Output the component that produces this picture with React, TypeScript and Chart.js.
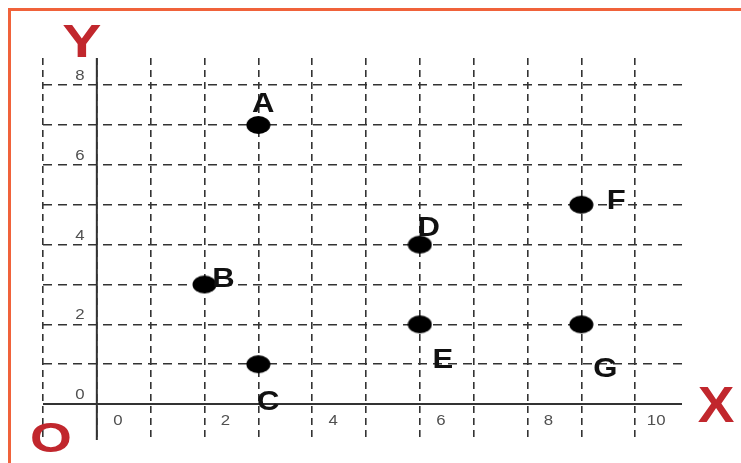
import React, { useEffect, useRef } from "react";
import { Chart, registerables } from "chart.js";

Chart.register(...registerables);

// ---- data ----
const POINT_NAMES = ["A", "B", "C", "D", "E", "F", "G"];
const POINT_X = [3, 2, 3, 6, 6, 9, 9];
const POINT_Y = [7, 3, 1, 4, 2, 5, 2];
const X_TICK_LABELS = [0, 2, 4, 6, 8, 10];
const Y_TICK_LABELS = [0, 2, 4, 6, 8];
const X_GRID = [-1, 0, 1, 2, 3, 4, 5, 6, 7, 8, 9, 10];
const Y_GRID = [0, 1, 2, 3, 4, 5, 6, 7, 8];
const X_MIN = -1;
const X_MAX = 10.87;
const Y_MIN = -0.9;
const Y_MAX = 8.68;

// ---- style ----
const LABEL_OFFSETS: Record<string, [number, number]> = {
  A: [5, -23],
  B: [19, -7],
  C: [10, 36],
  D: [9, -18],
  E: [23, 34],
  F: [35, -5],
  G: [24, 43],
};
const RED = "#c1272d";
const LINE = "#333333";
const FONT = '"Liberation Sans", Arial, sans-serif';

function makeDot(): HTMLCanvasElement {
  const c = document.createElement("canvas");
  c.width = 25;
  c.height = 20;
  const g = c.getContext("2d")!;
  g.fillStyle = "#000";
  g.beginPath();
  g.ellipse(12.5, 10, 12, 9, 0, 0, Math.PI * 2);
  g.fill();
  return c;
}

function drawText(
  ctx: CanvasRenderingContext2D,
  text: string,
  cx: number,
  cy: number,
  size: number,
  weight: string,
  color: string,
  sx: number
) {
  ctx.save();
  ctx.translate(cx, cy + size * 0.358);
  ctx.scale(sx, 1);
  ctx.font = `${weight} ${size}px ${FONT}`;
  ctx.fillStyle = color;
  ctx.textAlign = "center";
  ctx.textBaseline = "alphabetic";
  ctx.fillText(text, 0, 0);
  ctx.restore();
}

const textPlugin = {
  id: "coordTexts",
  afterDatasetsDraw(chart: any) {
    const ctx = chart.ctx as CanvasRenderingContext2D;
    const xs = chart.scales.x;
    const ys = chart.scales.y;
    const area = chart.chartArea;
    const x0 = xs.getPixelForValue(0);
    const y0 = ys.getPixelForValue(0);
    Y_TICK_LABELS.forEach((v) => {
      drawText(ctx, String(v), x0 - 17, ys.getPixelForValue(v) - 10, 14, "normal", "#505050", 1.2);
    });
    X_TICK_LABELS.forEach((v) => {
      drawText(ctx, String(v), xs.getPixelForValue(v) + 21, y0 + 16, 14, "normal", "#505050", 1.2);
    });
    POINT_NAMES.forEach((n, i) => {
      const [dx, dy] = LABEL_OFFSETS[n];
      drawText(
        ctx,
        n,
        xs.getPixelForValue(POINT_X[i]) + dx,
        ys.getPixelForValue(POINT_Y[i]) + dy,
        27,
        "bold",
        "#111",
        1.15
      );
    });
    drawText(ctx, "Y", x0 - 15, area.top - 18, 47, "bold", RED, 1.25);
    drawText(ctx, "X", area.right + 34, y0, 50, "bold", RED, 1.1);
    drawText(ctx, "O", area.left + 8, area.bottom - 3, 43, "bold", RED, 1.25);
  },
};

export default function App() {
  const ref = useRef<HTMLCanvasElement>(null);
  useEffect(() => {
    if (!ref.current) return;
    const dot = makeDot();
    const chart = new Chart(ref.current, {
      type: "scatter",
      data: {
        datasets: [
          {
            label: "points",
            data: POINT_X.map((x, i) => ({ x, y: POINT_Y[i] })),
            pointStyle: dot as any,
            pointRadius: 11,
            backgroundColor: "#000",
            borderColor: "#000",
            order: 0,
          },
          {
            label: "x-axis",
            type: "line",
            data: [
              { x: X_MIN, y: 0 },
              { x: X_MAX, y: 0 },
            ],
            borderColor: LINE,
            borderWidth: 2,
            pointRadius: 0,
            order: 1,
          } as any,
          {
            label: "y-axis",
            type: "line",
            data: [
              { x: 0, y: Y_MIN },
              { x: 0, y: Y_MAX },
            ],
            borderColor: LINE,
            borderWidth: 2,
            pointRadius: 0,
            order: 1,
          } as any,
        ],
      },
      options: {
        animation: false,
        responsive: false,
        layout: { padding: { left: 43, right: 59, top: 58, bottom: 23 } },
        plugins: { legend: { display: false }, tooltip: { enabled: false } },
        scales: {
          x: {
            type: "linear",
            min: X_MIN,
            max: X_MAX,
            afterBuildTicks: (s: any) => {
              s.ticks = X_GRID.map((v) => ({ value: v }));
            },
            ticks: { display: false },
            grid: { color: LINE, lineWidth: 1.6, drawTicks: false },
            border: { display: false, dash: [7, 5] },
          },
          y: {
            type: "linear",
            min: Y_MIN,
            max: Y_MAX,
            afterBuildTicks: (s: any) => {
              s.ticks = Y_GRID.map((v) => ({ value: v }));
            },
            ticks: { display: false },
            grid: { color: LINE, lineWidth: 1.6, drawTicks: false },
            border: { display: false, dash: [9, 6] },
          },
        },
      },
      plugins: [textPlugin],
    });
    return () => chart.destroy();
  }, []);

  return (
    <div
      style={{
        position: "fixed",
        left: 0,
        top: 0,
        width: 741,
        height: 463,
        overflow: "hidden",
        background: "#fff",
      }}
    >
      <div
        style={{
          position: "absolute",
          left: 8,
          top: 8,
          width: 800,
          height: 500,
          borderTop: "3px solid #f0623a",
          borderLeft: "3px solid #f0623a",
        }}
      />
      <canvas
        ref={ref}
        width={741}
        height={463}
        style={{ position: "absolute", left: 0, top: 0 }}
      />
    </div>
  );
}
